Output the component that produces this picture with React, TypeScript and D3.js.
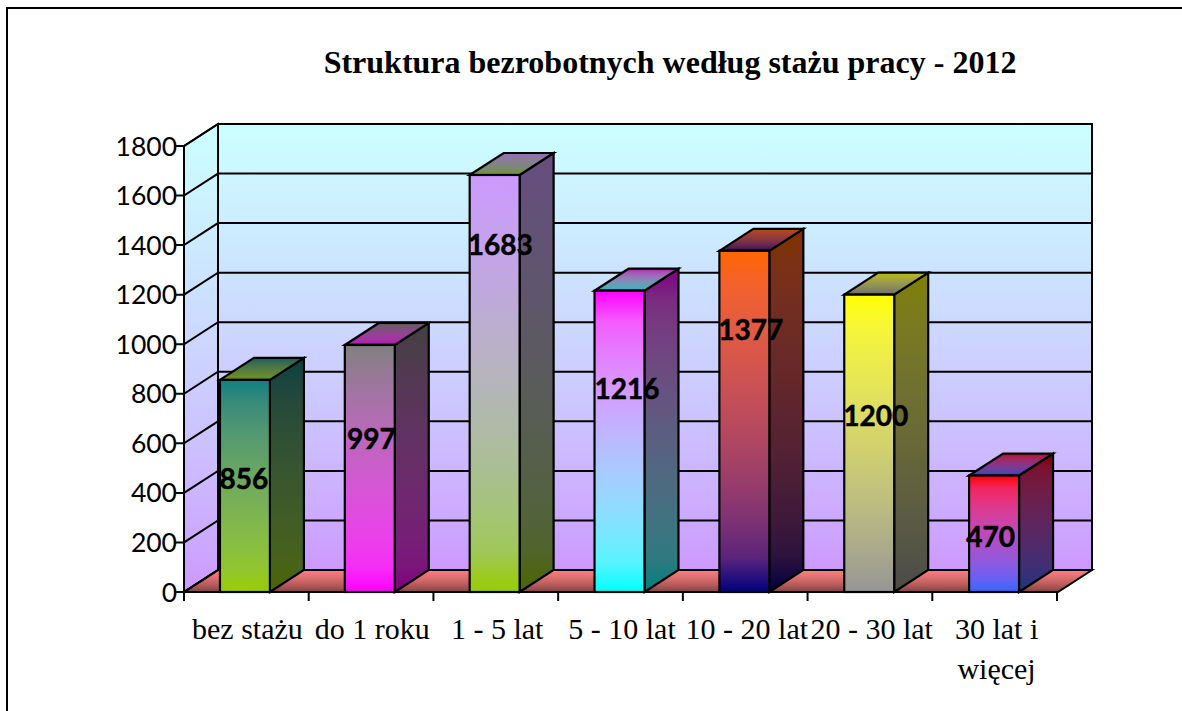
import React from "react";
import * as d3 from "d3";

const title = "Struktura bezrobotnych według stażu pracy - 2012";
const categories = ["bez stażu", "do 1 roku", "1 - 5 lat", "5 - 10 lat", "10 - 20 lat", "20 - 30 lat", "30 lat i|więcej"];
const values = [856, 997, 1683, 1216, 1377, 1200, 470];
const valueTicks = [0, 200, 400, 600, 800, 1000, 1200, 1400, 1600, 1800];
// hand-placed data labels in the source chart: height on the value axis
const labelHeights = [456, 619, 1400, 820, 1057, 710, 222];
const labelShift = [-1, 1.5, 5.5, 7.5, 6.5, 6.5, -3.5];
const faceTop = ["#0f8080", "#808080", "#cc99ff", "#ff00ff", "#ff6600", "#ffff00", "#ff0000"];
const faceBottom = ["#99cc00", "#ff00ff", "#99cc00", "#00ffff", "#000080", "#969696", "#3366ff"];

const W = 1182, H = 711;
const x0 = 184, x1 = 1058, y0 = 592, y1 = 146, dx = 34, dy = -22;

const y = d3.scaleLinear().domain([0, 1800]).range([y0, y1]);
const x = d3.scaleBand<number>().domain(d3.range(categories.length)).range([x0, x1]).paddingInner(0.6).paddingOuter(0.3).align(0.48);
const tickX = d3.scaleLinear().domain([0, categories.length]).range([x0, x1 - 1]);
const dim = (c: string, k: number) => {
  const r = d3.rgb(c);
  return d3.rgb(r.r * k, r.g * k, r.b * k).formatHex();
};
const poly = d3.line<[number, number]>();
const closed = (p: [number, number][]) => poly(p) + "Z";
const stroke = "#000";
const stopsAt = d3.range(0, 1.001, 0.1);

function Grad({ id, from, to }: { id: string; from: string; to: string }) {
  const mix = d3.interpolateRgb.gamma(2.2)(from, to);
  return (
    <linearGradient id={id} x1="0" y1="0" x2="0" y2="1">
      {stopsAt.map((t) => (
        <stop key={t} offset={t} stopColor={mix(t)} />
      ))}
    </linearGradient>
  );
}

export default function App() {
  return (
    <svg width={W} height={H} viewBox={`0 0 ${W} ${H}`} style={{ position: "absolute", left: 0, top: 0, background: "#fff" }}>
      <defs>
        <Grad id="wall" from="#ccffff" to="#cc99ff" />
        <Grad id="floor" from="#ff8080" to="#804040" />
        {values.map((_, i) => (
          <React.Fragment key={i}>
            <Grad id={`front${i}`} from={faceTop[i]} to={faceBottom[i]} />
            <Grad id={`side${i}`} from={dim(faceTop[i], 0.5)} to={dim(faceBottom[i], 0.5)} />
            <Grad id={`cap${i}`} from={dim(faceTop[i], 0.72)} to={dim(faceBottom[i], 0.72)} />
          </React.Fragment>
        ))}
      </defs>

      <path d={`M7,711V8H1182`} fill="none" stroke="#000" strokeWidth={2} />

      <text x={670} y={73} textAnchor="middle" fontFamily="'Liberation Serif'" fontWeight="bold" fontSize={32} fill="#000">{title}</text>

      {/* walls */}
      <path d={closed([[x0, y0], [x0 + dx, y0 + dy], [x0 + dx, y1 + dy], [x0, y1]])} fill="url(#wall)" />
      <rect x={x0 + dx} y={y1 + dy} width={x1 - x0} height={y0 - y1} fill="url(#wall)" />
      <path d={closed([[x0, y0], [x0 + dx, y0 + dy], [x1 + dx, y0 + dy], [x1, y0]])} fill="url(#floor)" />

      {valueTicks.map((t) => (
        <path key={t} d={poly([[x0 - 8, y(t)], [x0, y(t)], [x0 + dx, y(t) + dy], [x1 + dx, y(t) + dy]])!} fill="none" stroke={stroke} strokeWidth={2} />
      ))}
      <path d={closed([[x0, y0], [x0 + dx, y0 + dy], [x0 + dx, y1 + dy], [x0, y1]])} fill="none" stroke={stroke} strokeWidth={2} />
      <rect x={x0 + dx} y={y1 + dy} width={x1 - x0} height={y0 - y1} fill="none" stroke={stroke} strokeWidth={2} />
      <path d={closed([[x0, y0], [x0 + dx, y0 + dy], [x1 + dx, y0 + dy], [x1, y0]])} fill="none" stroke={stroke} strokeWidth={2} />

      {/* axes */}
      {d3.range(categories.length + 1).map((i) => (
        <line key={i} x1={tickX(i)} x2={tickX(i)} y1={y0} y2={y0 + 9} stroke={stroke} strokeWidth={2} />
      ))}
      {valueTicks.map((t) => (
        <text key={t} x={177} y={y(t) + 9.5} textAnchor="end" fontFamily="Lato" fontSize={26.5} fill="#000">{t}</text>
      ))}
      {categories.map((c, i) =>
        c.split("|").map((line, j) => (
          <text key={j} x={x0 + ((x1 - x0) * (i + 0.5)) / categories.length + 1} y={639 + j * 40} textAnchor="middle" fontFamily="'Liberation Serif'" fontSize={30} fill="#000">{line}</text>
        ))
      )}

      {/* bars */}
      {values.map((v, i) => {
        const l = x(i)!, r = l + x.bandwidth(), t = y(v);
        return (
          <g key={i} stroke={stroke} strokeWidth={2.2} strokeLinejoin="miter">
            <path d={closed([[r, y0], [r + dx, y0 + dy], [r + dx, t + dy], [r, t]])} fill={`url(#side${i})`} />
            <path d={closed([[l, t], [l + dx, t + dy], [r + dx, t + dy], [r, t]])} fill={`url(#cap${i})`} />
            <rect x={l} y={t} width={r - l} height={y0 - t} fill={`url(#front${i})`} />
          </g>
        );
      })}

      {/* data labels */}
      {values.map((v, i) => (
        <text key={i} x={x(i)! + x.bandwidth() / 2 + labelShift[i]} y={y(labelHeights[i]) + 10} textAnchor="middle" fontFamily="Lato" fontWeight="bold" fontSize={28} stroke="#000" strokeWidth={0.5} fill="#000">{v}</text>
      ))}
    </svg>
  );
}
